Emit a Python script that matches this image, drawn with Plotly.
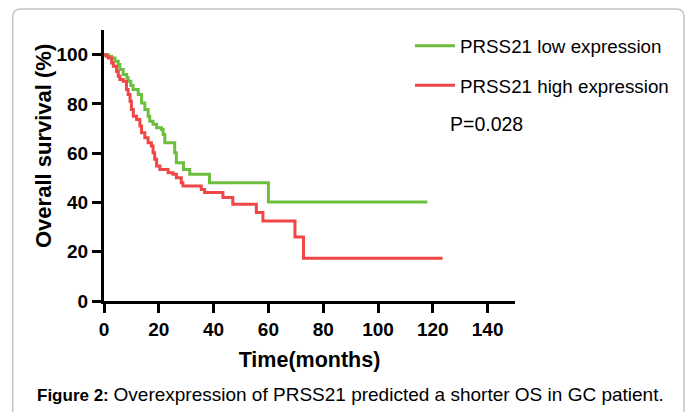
import plotly.graph_objects as go

# Kaplan-Meier step data (months, % survival)
low_time = [0, 1.5, 2.8, 4.0, 5.2, 5.8, 7.0, 8.3, 8.8, 9.8, 10.6, 12.5, 13.7, 14.9, 16.1, 16.7, 17.9, 19.2, 21.0, 21.6,
            22.2, 25.8, 26.4, 29.0, 31.3, 38.5, 60.0, 118.0]
low_surv = [100, 99.3, 98.6, 97.3, 96.0, 94.0, 91.9, 90.6, 89.2, 87.5, 85.8, 83.8, 80.4, 77.7, 75.0, 73.0, 71.7, 70.3, 69.6, 67.6,
            64.2, 60.2, 56.1, 53.4, 51.4, 48.0, 40.2, 40.2]

high_time = [0, 0.8, 1.6, 2.8, 3.4, 4.6, 5.2, 5.8, 7.0, 8.2, 8.8, 9.5, 10.0, 10.7, 11.9, 13.1, 13.7, 14.9, 16.1, 17.3,
             17.9, 18.5, 19.2, 20.4, 23.4, 25.2, 26.4, 28.2, 28.8, 35.5, 36.7, 43.4, 47.0, 55.6, 58.0, 69.7, 72.8, 123.6]
high_surv = [100, 99.3, 98.6, 96.6, 95.3, 93.2, 91.2, 89.9, 89.2, 85.8, 83.8, 81.1, 77.7, 75.0, 73.7, 71.0, 68.3, 66.3, 64.2, 62.9,
             60.2, 57.5, 54.8, 53.4, 52.1, 51.4, 50.0, 48.0, 46.7, 45.3, 44.0, 42.0, 39.3, 35.9, 32.5, 26.0, 17.4, 17.4]

x_ticks = [0, 20, 40, 60, 80, 100, 120, 140]
y_ticks = [0, 20, 40, 60, 80, 100]

series_names = ["PRSS21 low expression", "PRSS21 high expression"]
GREEN = "#6cbf3e"
RED = "#f04646"
FONT = "Liberation Sans, Arial, sans-serif"

fig = go.Figure()
fig.add_trace(go.Scatter(x=low_time, y=low_surv, mode="lines", line=dict(color=GREEN, width=3, shape="hv"),
                         name=series_names[0], legendgroup="a"))
fig.add_trace(go.Scatter(x=high_time, y=high_surv, mode="lines", line=dict(color=RED, width=3, shape="hv"),
                         name=series_names[1], legendgroup="b"))

axis_common = dict(showgrid=False, zeroline=False, showline=True, linecolor="black", linewidth=3,
                   ticks="outside", ticklen=9, tickwidth=2.5, tickcolor="black",
                   tickfont=dict(family=FONT, size=19, color="black", weight="bold"))

fig.update_xaxes(range=[0, 150], tickvals=x_ticks, ticktext=[str(v) for v in x_ticks],
                 title=dict(text="Time(months)", font=dict(family=FONT, size=21.5, color="black", weight="bold"), standoff=14),
                 **axis_common)
fig.update_yaxes(range=[0, 110], tickvals=y_ticks, ticktext=[str(v) for v in y_ticks], **axis_common)

L, R, T, B = 104, 180, 30, 111
W, H = 695, 412
pw, ph = W - L - R, H - T - B

def px(x):
    return (x - L) / pw

def py(y):
    return (H - B - y) / ph

annotations = [
    dict(text="<b>Overall survival (%)</b>", x=px(43), y=py(146), xref="paper", yref="paper", textangle=-90,
         xanchor="center", yanchor="middle",
         showarrow=False, font=dict(family=FONT, size=22, color="black")),
    dict(text="P=0.028", x=px(448), y=py(124), xref="paper", yref="paper", xanchor="left", yanchor="middle",
         showarrow=False, font=dict(family=FONT, size=19.5, color="black")),
    dict(text="<b>Figure 2:</b> <span style='font-size:19px'>Overexpression of PRSS21 predicted a shorter OS in GC patient.</span>",
         x=px(35), y=py(394), xref="paper", yref="paper", xanchor="left", yanchor="middle",
         showarrow=False, font=dict(family=FONT, size=17, color="black")),
]

# rounded frame around the figure
x0, x1, y0, y1 = px(12.7), px(684), py(9), py(430)
rx, ry = 8 / pw, 8 / ph
frame_path = (f"M {x0},{y1} L {x0},{y0 - ry} Q {x0},{y0} {x0 + rx},{y0} "
              f"L {x1 - rx},{y0} Q {x1},{y0} {x1},{y0 - ry} L {x1},{y1}")

fig.update_layout(
    width=W, height=H,
    margin=dict(l=L, r=R, t=T, b=B),
    paper_bgcolor="white", plot_bgcolor="white",
    font=dict(family=FONT, color="black"),
    showlegend=True,
    legend=dict(x=px(410), y=py(27), xanchor="left", yanchor="top", bgcolor="rgba(0,0,0,0)",
                font=dict(family=FONT, size=18.8, color="black"), tracegroupgap=12, itemwidth=40,
                traceorder="grouped"),
    annotations=annotations,
    shapes=[dict(type="path", path=frame_path, xref="paper", yref="paper",
                 line=dict(color="#c4c4c4", width=1.5), layer="below")],
)

fig.write_html("out.html", config={"displayModeBar": False},
               post_script="document.body.style.margin='0';")
